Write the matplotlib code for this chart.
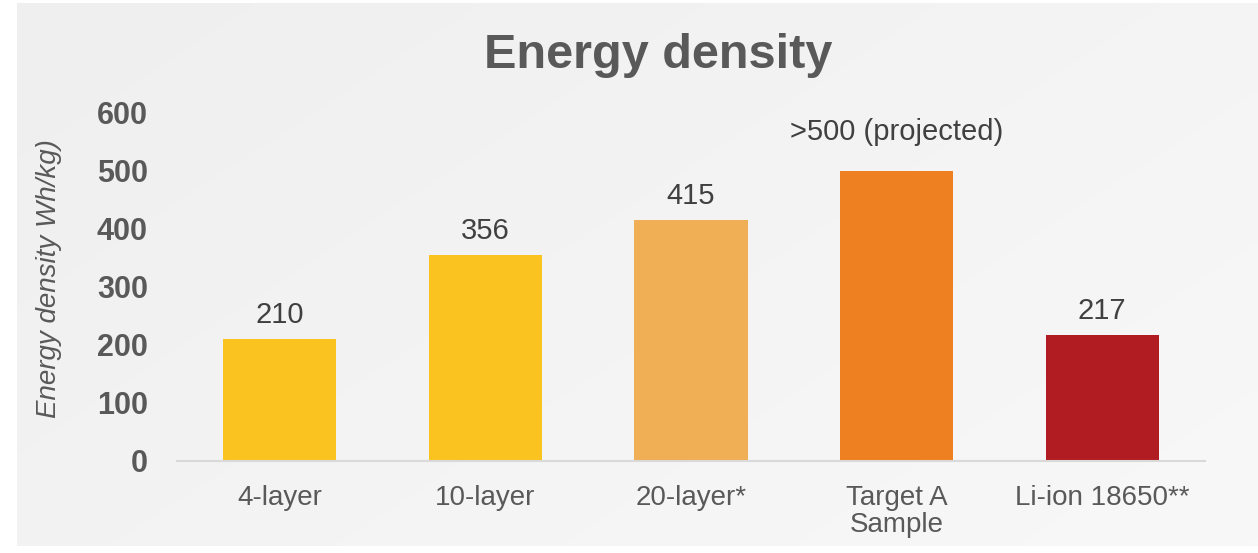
import numpy as np
import matplotlib
matplotlib.use("Agg")
import matplotlib.pyplot as plt

plt.rcParams["font.family"] = ["Liberation Sans", "DejaVu Sans"]

# Data
categories = ["4-layer", "10-layer", "20-layer*", "Target A\nSample", "Li-ion 18650**"]
values = [210, 356, 415, 500, 217]
value_labels = ["210", "356", "415", ">500 (projected)", "217"]
bar_colors = ["#FAC31F", "#FAC31F", "#F0AE55", "#EE8022", "#B11C23"]
y_ticks = [0, 100, 200, 300, 400, 500, 600]

W, H = 1258, 553
fig = plt.figure(figsize=(W / 100, H / 100), dpi=100)
fig.patch.set_facecolor("white")

# Light grey panel with a soft diagonal gradient
bg = fig.add_axes([17 / W, 1 - 546 / H, 1 - 17 / W, (546 - 3) / H], zorder=-10)
gx, gy = np.meshgrid(np.linspace(0, 1, 200), np.linspace(0, 1, 100))
grad = 0.6 * gx + 0.4 * gy
bg.imshow(grad, cmap=matplotlib.colors.LinearSegmentedColormap.from_list(
    "panel", ["#efefef", "#f8f8f8"]), aspect="auto", extent=[0, 1, 0, 1],
    origin="upper", interpolation="bilinear")
bg.set_axis_off()

# Main chart axes
left, right = 177 / W, 1205 / W
bottom = (H - 461) / H
top = (H - 113) / H
ax = fig.add_axes([left, bottom, right - left, top - bottom])
ax.patch.set_alpha(0)

x = np.arange(len(categories))
bars = ax.bar(x, values, width=0.55, color=bar_colors, zorder=2)

ax.set_xlim(-0.5, len(categories) - 0.5)
ax.set_ylim(0, 600)
ax.set_yticks(y_ticks)
ax.set_yticklabels([str(t) for t in y_ticks], fontsize=22, fontweight="bold",
                   color="#595959")
ax.set_xticks(x)
ax.set_xticklabels(categories, fontsize=20, color="#595959")
for lbl in ax.get_xticklabels():
    lbl.set_linespacing(1.05)
ax.tick_params(axis="y", length=0, pad=21)
ax.tick_params(axis="x", length=0, pad=17)

for side in ["left", "right", "top"]:
    ax.spines[side].set_visible(False)
ax.spines["bottom"].set_color("#d9d9d9")
ax.spines["bottom"].set_linewidth(1.5)
ax.spines["bottom"].set_zorder(3)

# Value labels above the bars
for xi, v, txt in zip(x, values, value_labels):
    off = 11.5 if not txt.startswith(">") else 22
    ax.annotate(txt, (xi, v), xytext=(0, off), textcoords="offset points",
                ha="center", va="baseline", fontsize=21, color="#404040")

fig.text(658 / W, 1 - 55 / H, "Energy density", ha="center", va="center",
         fontsize=35, fontweight="bold", color="#595959")
fig.text(49 / W, 1 - 279 / H, "Energy density Wh/kg)", ha="center", va="center",
         rotation=90, fontsize=20, fontstyle="italic", color="#595959")

fig.savefig("out.png", dpi=100)
